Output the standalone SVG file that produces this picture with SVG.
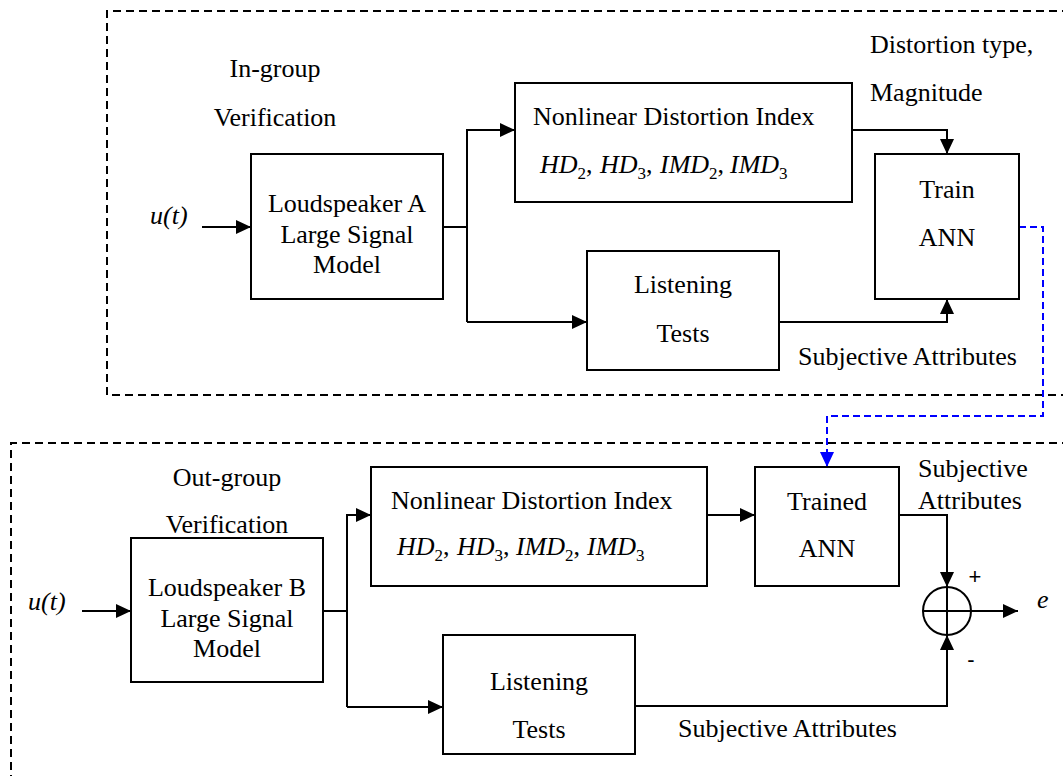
<svg xmlns="http://www.w3.org/2000/svg" width="1063" height="776" viewBox="0 0 1063 776">
<style>
text{font-family:"Liberation Serif","Times New Roman",serif;font-size:26px;fill:#000}
.c{text-anchor:middle}
.it{font-style:italic}
.sub{font-size:17px;font-style:normal}
.box{fill:#fff;stroke:#000;stroke-width:2}
.ln{fill:none;stroke:#000;stroke-width:2}
.dash{fill:none;stroke:#000;stroke-width:2;stroke-dasharray:8 5}
.blue{fill:none;stroke:#0000ff;stroke-width:2;stroke-dasharray:7 4}
.sans{font-family:"Liberation Sans",Arial,sans-serif;font-size:22px}
</style>
<defs>
<marker id="ah" viewBox="0 0 15 14" refX="15" refY="7" markerWidth="15" markerHeight="14" markerUnits="userSpaceOnUse" orient="auto">
<path d="M0,0 L15,7 L0,14 z" fill="#000"/>
</marker>
<marker id="ahb" viewBox="0 0 15 14" refX="15" refY="7" markerWidth="15" markerHeight="14" markerUnits="userSpaceOnUse" orient="auto">
<path d="M0,0 L15,7 L0,14 z" fill="#0000ff"/>
</marker>
</defs>
<rect width="1063" height="776" fill="#fff"/>
<g id="frames">
<path class="dash" d="M1070,11 H107 V395 H1070"/>
<path class="dash" d="M1070,443 H11 V780"/>
</g>
<g id="labels">
<text class="c" x="275" y="77">In-group</text>
<text class="c" x="275" y="126">Verification</text>
<text x="870" y="53">Distortion type,</text>
<text x="870" y="101">Magnitude</text>
<text x="798" y="365">Subjective Attributes</text>
<text class="it" x="150" y="224" font-size="28">u(t)</text>
<text class="c" x="227" y="486">Out-group</text>
<text class="c" x="227" y="533">Verification</text>
<text class="it" x="28" y="610" font-size="28">u(t)</text>
<text x="918" y="477">Subjective</text>
<text x="918" y="509">Attributes</text>
<text x="678" y="737">Subjective Attributes</text>
<text class="sans c" x="975" y="584">+</text>
<text class="sans c" x="971" y="667">-</text>
<text class="it" x="1037" y="608" font-size="28">e</text>
</g>
<g id="connectors">
<line class="ln" x1="202" y1="227" x2="251" y2="227" marker-end="url(#ah)"/>
<line class="ln" x1="443" y1="227" x2="467" y2="227"/>
<path class="ln" d="M467,322 V130 H515" marker-end="url(#ah)"/>
<path class="ln" d="M467,322 H587" marker-end="url(#ah)"/>
<path class="ln" d="M852,130 H947 V154" marker-end="url(#ah)"/>
<path class="ln" d="M779,322 H947 V299" marker-end="url(#ah)"/>
<path class="blue" d="M1019,227 H1043 V416 H827 V467" marker-end="url(#ahb)"/>
<line class="ln" x1="82" y1="611" x2="131" y2="611" marker-end="url(#ah)"/>
<line class="ln" x1="323" y1="611" x2="347" y2="611"/>
<path class="ln" d="M347,707 V515 H371" marker-end="url(#ah)"/>
<path class="ln" d="M347,707 H443" marker-end="url(#ah)"/>
<line class="ln" x1="707" y1="515" x2="755" y2="515" marker-end="url(#ah)"/>
<path class="ln" d="M899,515 H947 V587" marker-end="url(#ah)"/>
<path class="ln" d="M635,706 H947 V635" marker-end="url(#ah)"/>
<line class="ln" x1="971" y1="611" x2="1018" y2="611" marker-end="url(#ah)"/>
</g>
<g id="loudspeakerA">
<rect class="box" x="251" y="154" width="192" height="145"/>
<text class="c" x="347" y="212">Loudspeaker A</text>
<text class="c" x="347" y="243">Large Signal</text>
<text class="c" x="347" y="273">Model</text>
</g>
<g id="ndiA">
<rect class="box" x="515" y="83" width="337" height="119"/>
<text x="533" y="125">Nonlinear Distortion Index</text>
<text y="173"><tspan class="it" x="540">HD</tspan><tspan class="sub" dy="6">2</tspan><tspan dy="-6">,</tspan><tspan class="it" x="600">HD</tspan><tspan class="sub" dy="6">3</tspan><tspan dy="-6">,</tspan><tspan class="it" x="660">IMD</tspan><tspan class="sub" dy="6">2</tspan><tspan dy="-6">,</tspan><tspan class="it" x="730">IMD</tspan><tspan class="sub" dy="6">3</tspan></text>
</g>
<g id="trainANN">
<rect class="box" x="875" y="154" width="144" height="145"/>
<text class="c" x="947" y="198">Train</text>
<text class="c" x="947" y="246">ANN</text>
</g>
<g id="listeningA">
<rect class="box" x="587" y="251" width="192" height="119"/>
<text class="c" x="683" y="293">Listening</text>
<text class="c" x="683" y="342">Tests</text>
</g>
<g id="loudspeakerB">
<rect class="box" x="131" y="538" width="192" height="144"/>
<text class="c" x="227" y="596">Loudspeaker B</text>
<text class="c" x="227" y="627">Large Signal</text>
<text class="c" x="227" y="657">Model</text>
</g>
<g id="ndiB">
<rect class="box" x="371" y="467" width="336" height="119"/>
<text x="391" y="509">Nonlinear Distortion Index</text>
<text y="555"><tspan class="it" x="397">HD</tspan><tspan class="sub" dy="6">2</tspan><tspan dy="-6">,</tspan><tspan class="it" x="457">HD</tspan><tspan class="sub" dy="6">3</tspan><tspan dy="-6">,</tspan><tspan class="it" x="516">IMD</tspan><tspan class="sub" dy="6">2</tspan><tspan dy="-6">,</tspan><tspan class="it" x="587">IMD</tspan><tspan class="sub" dy="6">3</tspan></text>
</g>
<g id="trainedANN">
<rect class="box" x="755" y="467" width="144" height="119"/>
<text class="c" x="827" y="510">Trained</text>
<text class="c" x="827" y="557">ANN</text>
</g>
<g id="listeningB">
<rect class="box" x="443" y="635" width="192" height="119"/>
<text class="c" x="539" y="690">Listening</text>
<text class="c" x="539" y="738">Tests</text>
</g>
<g id="sum">
<circle cx="947" cy="611" r="24" fill="#fff" stroke="#000" stroke-width="2"/>
<line class="ln" x1="923" y1="611" x2="971" y2="611"/>
<line class="ln" x1="947" y1="587" x2="947" y2="635"/>
</g>
</svg>
